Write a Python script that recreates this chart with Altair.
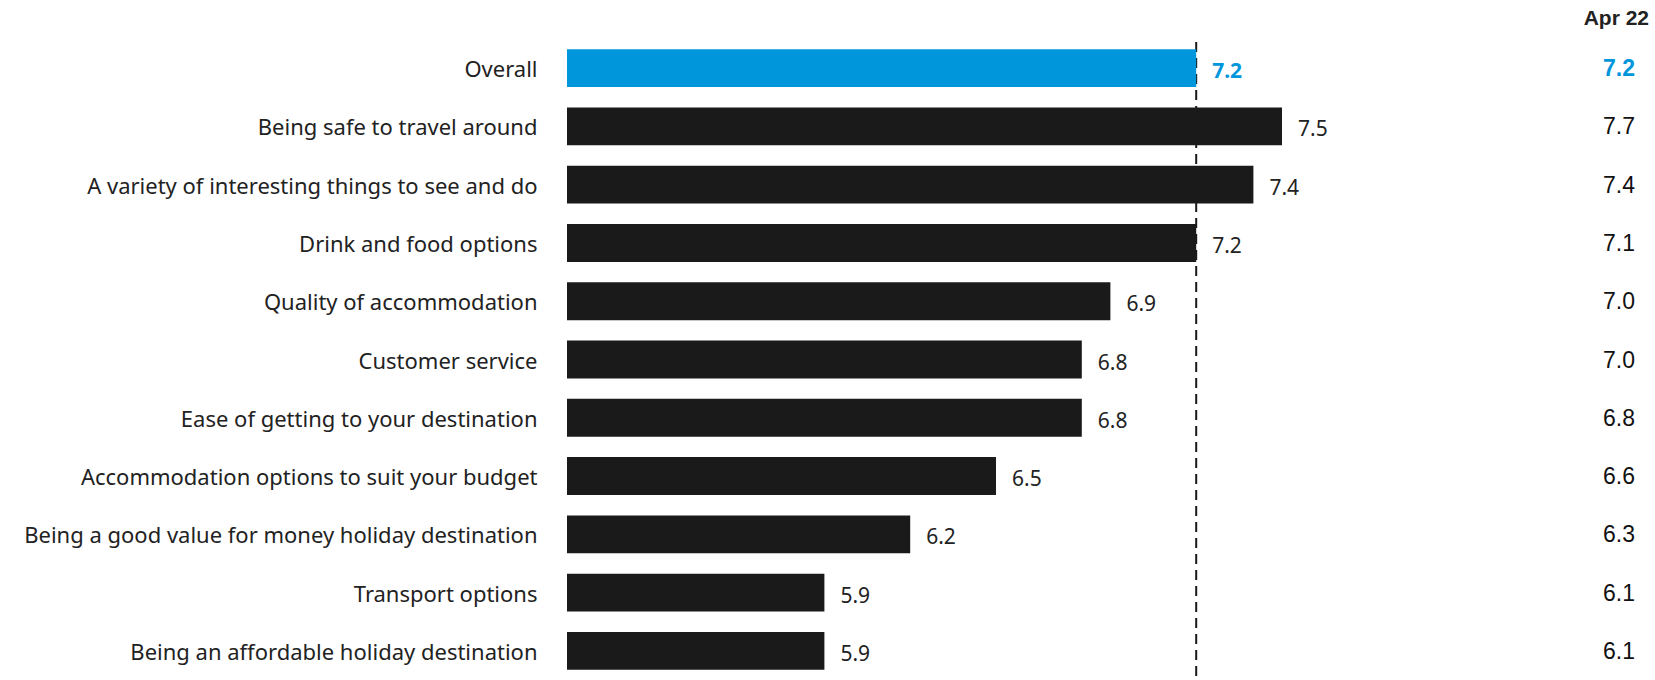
import altair as alt
import pandas as pd

# Satisfaction scores per destination attribute (current wave and Apr 22)
categories = [
    "Overall",
    "Being safe to travel around",
    "A variety of interesting things to see and do",
    "Drink and food options",
    "Quality of accommodation",
    "Customer service",
    "Ease of getting to your destination",
    "Accommodation options to suit your budget",
    "Being a good value for money holiday destination",
    "Transport options",
    "Being an affordable holiday destination",
]
current_scores = [7.2, 7.5, 7.4, 7.2, 6.9, 6.8, 6.8, 6.5, 6.2, 5.9, 5.9]
apr22_scores = [7.2, 7.7, 7.4, 7.1, 7.0, 7.0, 6.8, 6.6, 6.3, 6.1, 6.1]
previous_label = "Apr 22"
axis_start = 5

BLUE = "#0096dc"
DARK = "#1a1a1a"

df = pd.DataFrame({
    "category": categories,
    "score": current_scores,
    "apr22": apr22_scores,
    "is_overall": [c == "Overall" for c in categories],
})
df["start"] = axis_start
df["score_label"] = df["score"].map(lambda v: f"{v:.1f}")
df["apr22_label"] = df["apr22"].map(lambda v: f"{v:.1f}")

overall_value = current_scores[categories.index("Overall")]

PLOT_W = 858
PLOT_H = 641

y_enc = alt.Y(
    "category:N",
    sort=categories,
    scale=alt.Scale(paddingInner=0.35, paddingOuter=0.175),
    axis=alt.Axis(
        title=None, domain=False, ticks=False, labelPadding=30,
        labelLimit=700, labelFontSize=22, labelFont="Noto Sans",
        labelColor="#222222", labelOffset=2,
    ),
)
y_plain = alt.Y("category:N", sort=categories)
x_scale = alt.Scale(domain=[axis_start, 8], zero=False, nice=False)

color_enc = alt.Color(
    "is_overall:N",
    scale=alt.Scale(domain=[True, False], range=[BLUE, DARK]),
    legend=None,
)

base = alt.Chart(df)
overall_rows = base.transform_filter("datum.is_overall")
other_rows = base.transform_filter("!datum.is_overall")

# dashed reference at the overall score, drawn beneath the bars
ref_line = alt.Chart(pd.DataFrame({"v": [overall_value]})).mark_rule(
    color=DARK, strokeWidth=2, strokeDash=[10, 6]
).encode(
    x=alt.X("v:Q", scale=x_scale, axis=None),
    y=alt.value(3),
    y2=alt.value(PLOT_H + 10),
)

# bars run from the axis start to each score
bars = base.mark_bar().encode(
    y=y_enc,
    x=alt.X("start:Q", scale=x_scale, axis=None),
    x2="score:Q",
    color=color_enc,
)

# score labels at the bar ends
value_overall = overall_rows.mark_text(
    align="left", baseline="middle", dx=16, dy=4, fontSize=21,
    font="Noto Sans", fontWeight="bold", color=BLUE,
).encode(
    y=y_plain,
    x=alt.X("score:Q", scale=x_scale),
    text="score_label:N",
)

value_rest = other_rows.mark_text(
    align="left", baseline="middle", dx=16, dy=4, fontSize=21,
    font="Noto Sans", color="#222222",
).encode(
    y=y_plain,
    x=alt.X("score:Q", scale=x_scale),
    text="score_label:N",
)

# Apr 22 column on the right
prev_overall = overall_rows.mark_text(
    align="right", baseline="middle", fontSize=23, font="Liberation Sans",
    fontWeight="bold", color=BLUE, dy=1,
).encode(
    y=y_plain,
    x=alt.value(1068),
    text="apr22_label:N",
)

prev_rest = other_rows.mark_text(
    align="right", baseline="middle", fontSize=23, font="Liberation Sans",
    color="#111111", dy=1,
).encode(
    y=y_plain,
    x=alt.value(1068),
    text="apr22_label:N",
)

header = alt.Chart(pd.DataFrame({"t": [previous_label]})).mark_text(
    align="right", baseline="middle", fontSize=21, font="Liberation Sans",
    fontWeight="bold", color="#222222",
).encode(
    x=alt.value(1082),
    y=alt.value(-20),
    text="t:N",
)

chart = alt.layer(
    ref_line, bars, value_overall, value_rest, prev_overall, prev_rest, header
).properties(
    width=PLOT_W,
    height=PLOT_H,
    background="white",
    autosize=alt.AutoSizeParams(type="none"),
    padding={"left": 567, "top": 39, "right": 1655 - 567 - PLOT_W, "bottom": 0},
).configure_view(stroke=None)

chart.save("out.html", embed_options={"renderer": "svg", "actions": False})
